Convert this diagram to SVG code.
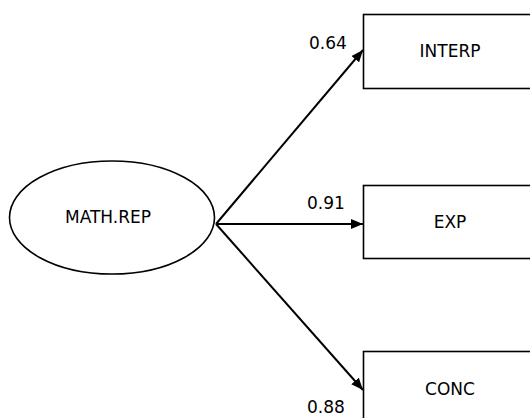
<svg xmlns="http://www.w3.org/2000/svg" width="530" height="418" viewBox="0 0 530 418">
  <style>
    .shape { fill: #ffffff; stroke: #000000; stroke-width: 1.6; }
    .edge { fill: none; stroke: #000000; stroke-width: 2; }
    .lbl { font-family: "DejaVu Sans", "Liberation Sans", sans-serif; font-size: 17px; fill: #000000; }
    .mid { text-anchor: middle; }
  </style>
  <defs>
    <marker id="arrowhead" viewBox="0 0 12 10" refX="12" refY="5" markerWidth="12" markerHeight="10" markerUnits="userSpaceOnUse" orient="auto">
      <path d="M0,0 L12,5 L0,10 Z" fill="#000000"/>
    </marker>
  </defs>
  <rect width="530" height="418" fill="#ffffff"/>

  <g id="connectors">
    <line class="edge" x1="216" y1="224" x2="363" y2="50" marker-end="url(#arrowhead)"/>
    <line class="edge" x1="216" y1="224" x2="363" y2="224" marker-end="url(#arrowhead)"/>
    <line class="edge" x1="216" y1="224" x2="363" y2="390" marker-end="url(#arrowhead)"/>
    <text class="lbl" x="309" y="49">0.64</text>
    <text class="lbl" x="307" y="209">0.91</text>
    <text class="lbl" x="307" y="413">0.88</text>
  </g>

  <g id="math-rep">
    <ellipse class="shape" cx="112" cy="217.5" rx="102.5" ry="56.5"/>
    <text class="lbl mid" x="108" y="223">MATH.REP</text>
  </g>

  <g id="interp">
    <rect class="shape" x="363.5" y="14.5" width="175" height="74"/>
    <text class="lbl mid" x="450" y="57">INTERP</text>
  </g>

  <g id="exp">
    <rect class="shape" x="363.5" y="185.5" width="175" height="73"/>
    <text class="lbl mid" x="450" y="228">EXP</text>
  </g>

  <g id="conc">
    <rect class="shape" x="363.5" y="351.5" width="175" height="80"/>
    <text class="lbl mid" x="450" y="395">CONC</text>
  </g>
</svg>
